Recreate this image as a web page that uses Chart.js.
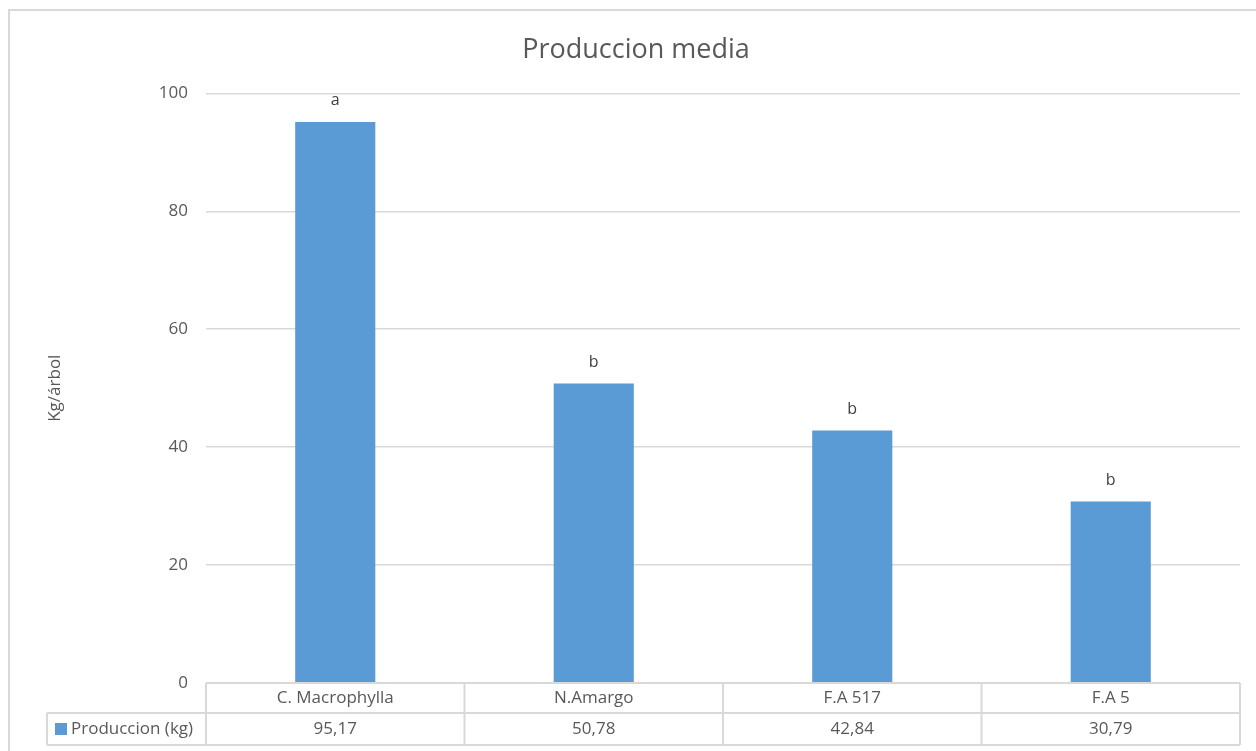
<!DOCTYPE html>
<html lang="es">
<head>
    <meta charset="UTF-8">
    <title>Produccion media</title>
    <script src="https://cdn.jsdelivr.net/npm/chart.js@4.4.1/dist/chart.umd.min.js"></script>
    <style>
        body { margin: 0; background: #fff; }
    </style>
</head>
<body>
<canvas id="grafico" width="1256" height="751"></canvas>
<script>
    // datos
    const categorias = ['C. Macrophylla', 'N.Amargo', 'F.A 517', 'F.A 5'];
    const produccion = [95.17, 50.78, 42.84, 30.79];
    const letras = ['a', 'b', 'b', 'b'];
    const serie = 'Produccion (kg)';
    const yTicks = [0, 20, 40, 60, 80, 100];

    const azul = '#5b9bd5';
    const gris = '#595959';
    const linea = '#d9d9d9';
    const fuente = '"Open Sans", "Noto Sans", sans-serif';

    // marco del grafico, letras sobre las barras y tabla de datos
    const extras = {
        id: 'extras',
        beforeDraw(chart) {
            const ctx = chart.ctx;
            ctx.save();
            ctx.strokeStyle = linea;
            ctx.lineWidth = 2;
            ctx.strokeRect(9, 10, 1400, 900);
            ctx.restore();
        },
        afterDraw(chart) {
            const ctx = chart.ctx;
            const area = chart.chartArea;
            const x = chart.scales.x;
            const y = chart.scales.y;
            const n = categorias.length;
            const colW = (area.right - area.left) / n;
            const fila1 = area.bottom;
            const fila2 = fila1 + 30;
            const fin = fila2 + 32;
            const izq = 47;

            ctx.save();
            ctx.font = '16px ' + fuente;
            ctx.fillStyle = '#404040';
            ctx.textAlign = 'center';
            ctx.textBaseline = 'middle';
            letras.forEach((l, i) => {
                ctx.fillText(l, x.getPixelForValue(i), y.getPixelForValue(produccion[i]) - 21);
            });

            // lineas de la tabla
            ctx.strokeStyle = linea;
            ctx.lineWidth = 2;
            ctx.beginPath();
            ctx.moveTo(area.left, fila1); ctx.lineTo(area.right, fila1);
            ctx.moveTo(izq, fila2); ctx.lineTo(area.right, fila2);
            ctx.moveTo(izq, fin); ctx.lineTo(area.right, fin);
            ctx.moveTo(izq, fila2); ctx.lineTo(izq, fin);
            for (let i = 0; i <= n; i++) {
                const cx = area.left + i * colW;
                ctx.moveTo(cx, fila1); ctx.lineTo(cx, fin);
            }
            ctx.stroke();

            ctx.font = '17px ' + fuente;
            ctx.fillStyle = gris;
            categorias.forEach((c, i) => {
                const cx = x.getPixelForValue(i);
                ctx.fillText(c, cx, (fila1 + fila2) / 2);
                ctx.fillText(produccion[i].toFixed(2).replace('.', ','), cx, (fila2 + fin) / 2);
            });

            // leyenda de la serie
            ctx.fillStyle = azul;
            ctx.fillRect(55, fila2 + 10, 12, 12);
            ctx.fillStyle = gris;
            ctx.textAlign = 'left';
            ctx.fillText(serie, 71, (fila2 + fin) / 2);
            ctx.restore();
        }
    };

    new Chart(document.getElementById('grafico'), {
        type: 'bar',
        data: {
            labels: categorias,
            datasets: [{
                label: serie,
                data: produccion,
                backgroundColor: azul,
                categoryPercentage: 1,
                barPercentage: 0.31
            }]
        },
        options: {
            responsive: false,
            animation: false,
            layout: { padding: { top: 20, left: 32, right: 16, bottom: 68 } },
            plugins: {
                legend: { display: false },
                tooltip: { enabled: false },
                title: {
                    display: true,
                    text: 'Produccion media',
                    color: gris,
                    font: { family: fuente, size: 27, weight: 'normal' },
                    padding: { top: 14, bottom: 27 }
                }
            },
            scales: {
                x: { display: false },
                y: {
                    min: 0,
                    max: 100,
                    afterFit(scale) { scale.width = 174; },
                    afterBuildTicks(scale) { scale.ticks = yTicks.map(v => ({ value: v })); },
                    border: { display: false },
                    grid: { color: linea, lineWidth: 1.5, drawTicks: false },
                    ticks: {
                        color: gris,
                        padding: 18,
                        font: { family: fuente, size: 17 }
                    },
                    title: {
                        display: true,
                        text: 'Kg/árbol',
                        color: gris,
                        font: { family: fuente, size: 17 },
                        padding: { top: 13, bottom: 0 }
                    }
                }
            }
        },
        plugins: [extras]
    });
</script>
</body>
</html>
